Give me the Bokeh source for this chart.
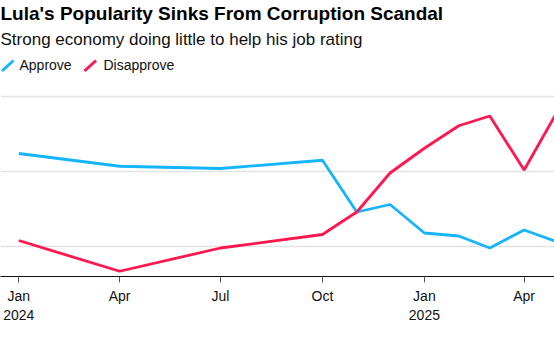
import pandas as pd
from bokeh.plotting import figure
from bokeh.models import (ColumnDataSource, Range1d, FixedTicker, Grid, Label, Arrow,
                          DatetimeAxis)
from bokeh.embed import file_html
from bokeh.resources import INLINE

# ---- data ----
dates = ["2024-01-01", "2024-04-01", "2024-07-01", "2024-10-01", "2024-11-01",
         "2024-12-01", "2025-01-01", "2025-02-01", "2025-03-01", "2025-04-01",
         "2025-05-01"]
approve = [52.4, 50.7, 50.4, 51.5, 44.6, 45.6, 41.8, 41.4, 39.8, 42.2, 40.6]
disapprove = [40.8, 36.7, 39.8, 41.6, 44.6, 49.8, 53.1, 56.1, 57.4, 50.2, 58.0]
tick_dates = ["2024-01-01", "2024-04-01", "2024-07-01", "2024-10-01", "2025-01-01", "2025-04-01"]
tick_labels = ["Jan\n2024", "Apr", "Jul", "Oct", "Jan\n2025", "Apr"]
y_grid = [40, 50, 60]

title = "Lula's Popularity Sinks From Corruption Scandal"
subtitle = "Strong economy doing little to help his job rating"
series_names = ["Approve", "Disapprove"]
BLUE = "#14b4ff"
RED = "#ff1750"
FONT = "Liberation Sans"

x = pd.to_datetime(dates)
src = ColumnDataSource(dict(x=x, approve=approve, disapprove=disapprove))

t0 = pd.Timestamp("2024-01-01")
x_start = t0 - pd.Timedelta(days=16.5)
x_end = t0 + pd.Timedelta(days=483.4)

p = figure(width=554, height=338, output_backend="svg", toolbar_location=None,
           x_axis_type=None, y_axis_location=None,
           x_range=Range1d(x_start, x_end), y_range=Range1d(36.0, 72.8),
           min_border_left=0, min_border_right=0, min_border_top=0,
           min_border_bottom=62)
p.outline_line_color = None
p.background_fill_color = "white"
p.border_fill_color = "white"
for g in p.grid:
    g.visible = False

grid = Grid(dimension=1, ticker=FixedTicker(ticks=y_grid),
            grid_line_color="#e3e3e3", grid_line_width=1.5)
p.add_layout(grid)

tick_ms = [pd.Timestamp(d).value / 1e6 for d in tick_dates]
xaxis = DatetimeAxis(ticker=FixedTicker(ticks=tick_ms))
xaxis.major_label_overrides = {t: lab for t, lab in zip(tick_ms, tick_labels)}
xaxis.axis_line_color = "#111111"
xaxis.axis_line_width = 1.2
xaxis.major_tick_line_color = "#555555"
xaxis.major_tick_out = 6
xaxis.major_tick_in = 0
xaxis.minor_tick_line_color = None
xaxis.major_label_text_font = FONT
xaxis.major_label_text_font_size = "14px"
xaxis.major_label_text_color = "#111111"
xaxis.major_label_standoff = 5
p.add_layout(xaxis, "below")

p.line("x", "approve", source=src, line_color=BLUE, line_width=2.8)
p.line("x", "disapprove", source=src, line_color=RED, line_width=2.8)

# ---- header (screen units relative to plot frame; frame top = canvas top, height 276) ----
FH = 276
p.add_layout(Label(x=0, y=FH - 13, x_units="screen", y_units="screen", text=title,
                   text_font=FONT, text_font_style="bold", text_font_size="19px",
                   text_color="#000000", text_baseline="alphabetic"))
p.add_layout(Label(x=0, y=FH - 39, x_units="screen", y_units="screen", text=subtitle,
                   text_font=FONT, text_font_size="17px",
                   text_color="#111111", text_baseline="alphabetic"))

for x0, xt, col, name in [(1.5, 19, BLUE, series_names[0]), (84, 103, RED, series_names[1])]:
    p.add_layout(Arrow(x_start=x0, y_start=FH - 70.5, x_end=x0 + 11.5, y_end=FH - 60,
                       start_units="screen", end_units="screen", start=None, end=None,
                       line_color=col, line_width=3))
    p.add_layout(Label(x=xt, y=FH - 64.5, x_units="screen", y_units="screen", text=name,
                       text_font=FONT, text_font_size="14px", text_color="#111111",
                       text_baseline="alphabetic"))

open("out.html", "w").write(file_html(p, INLINE))
